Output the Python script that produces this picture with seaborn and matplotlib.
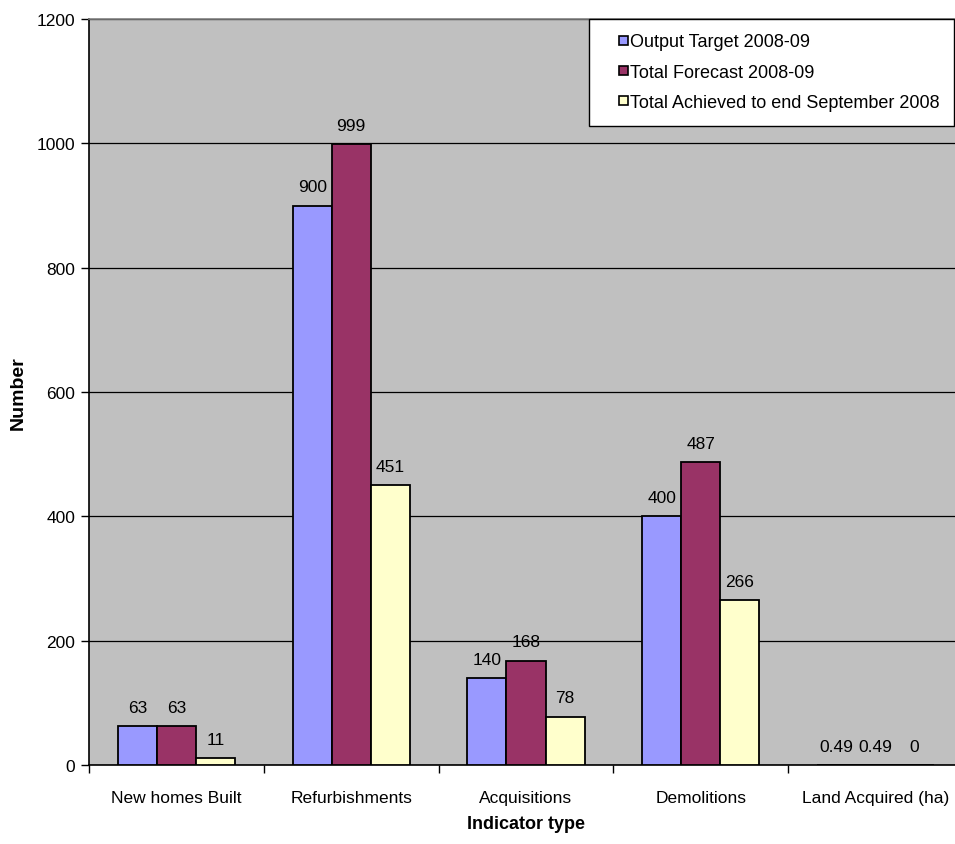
import matplotlib
matplotlib.use("Agg")
import matplotlib.pyplot as plt
import seaborn as sns
import pandas as pd
import numpy as np
from matplotlib.patches import Patch, Rectangle
from matplotlib.legend_handler import HandlerPatch

categories = ["New homes Built", "Refurbishments", "Acquisitions", "Demolitions", "Land Acquired (ha)"]
series_names = ["Output Target 2008-09", "Total Forecast 2008-09", "Total Achieved to end September 2008"]
output_target = [63, 900, 140, 400, 0.49]
total_forecast = [63, 999, 168, 487, 0.49]
total_achieved = [11, 451, 78, 266, 0]
colors = ["#9999FF", "#993366", "#FFFFCC"]
y_ticks = [0, 200, 400, 600, 800, 1000, 1200]

rows = []
for name, vals in zip(series_names, [output_target, total_forecast, total_achieved]):
    for c, v in zip(categories, vals):
        rows.append({"Indicator type": c, "Series": name, "Number": v})
df = pd.DataFrame(rows)

sns.set_style("white")
plt.rcParams['font.family'] = ['Liberation Sans', 'DejaVu Sans']
plt.rcParams.update({"text.color": "black", "axes.labelcolor": "black",
                     "xtick.color": "black", "ytick.color": "black"})

W, H = 955, 845
fig = plt.figure(figsize=(W / 100, H / 100), dpi=100)
ax = fig.add_axes([89 / W, 1 - 766 / H, (963 - 89) / W, (766 - 20) / H])
ax.set_facecolor("#C0C0C0")

sns.barplot(data=df, x="Indicator type", y="Number", hue="Series", order=categories,
            hue_order=series_names, palette=colors, width=0.67, gap=0,
            edgecolor="black", linewidth=1.3, saturation=1, ax=ax, legend=False, zorder=3)

for cont in ax.containers:
    ax.bar_label(cont, labels=[f"{v:g}" for v in cont.datavalues], padding=8,
                 fontsize=12.5, color="black")

ax.set_ylim(0, 1200)
ax.set_xlim(-0.5, 4.5)
ax.set_yticks(y_ticks)
ax.yaxis.grid(True, color="black", linewidth=0.9, zorder=1)
ax.set_axisbelow(True)
ax.tick_params(axis="y", direction="out", length=6, width=1, labelsize=12.5, pad=4, left=True,
               colors="black")
ax.set_xticks(range(len(categories)))
ax.set_xticklabels(categories, fontsize=12.5)
ax.tick_params(axis="x", which="major", length=0, pad=18, colors="black")
ax.set_xticks(np.arange(-0.5, 4.6, 1.0), minor=True)
ax.tick_params(axis="x", which="minor", direction="out", length=6, width=1, bottom=True,
               colors="black")

for s in ["left", "bottom"]:
    ax.spines[s].set_color("black")
    ax.spines[s].set_linewidth(1.2)
for s in ["top", "right"]:
    ax.spines[s].set_color("#808080")
    ax.spines[s].set_linewidth(1.2)

ax.set_xlabel("Indicator type", fontsize=13, fontweight="bold", labelpad=7, color="black")
ax.set_ylabel("Number", fontsize=14, fontweight="bold", va="center", ha="center", color="black")
ax.yaxis.set_label_coords((18 - 89) / (963 - 89), 0.5)


def small_square(legend, orig_handle, xdescent, ydescent, width, height, fontsize):
    s = 6.5
    return Rectangle((-xdescent + width - s - 0.8, -ydescent + (height - s) / 2), s, s)


handles = [Patch(facecolor=c, edgecolor="black", linewidth=1.2) for c in colors]
leg = fig.legend(handles, series_names, loc="upper right", bbox_to_anchor=(954 / W, 1 - 20 / H),
                 bbox_transform=fig.transFigure, fontsize=13, frameon=True,
                 fancybox=False, edgecolor="black", framealpha=1, borderaxespad=0,
                 handlelength=1.4, handleheight=0.7, handletextpad=0.06, labelspacing=0.74,
                 borderpad=0.8, handler_map={Patch: HandlerPatch(patch_func=small_square)})
leg.get_frame().set_linewidth(1.0)
for t in leg.get_texts():
    t.set_color("black")

fig.savefig("out.png", dpi=100)
